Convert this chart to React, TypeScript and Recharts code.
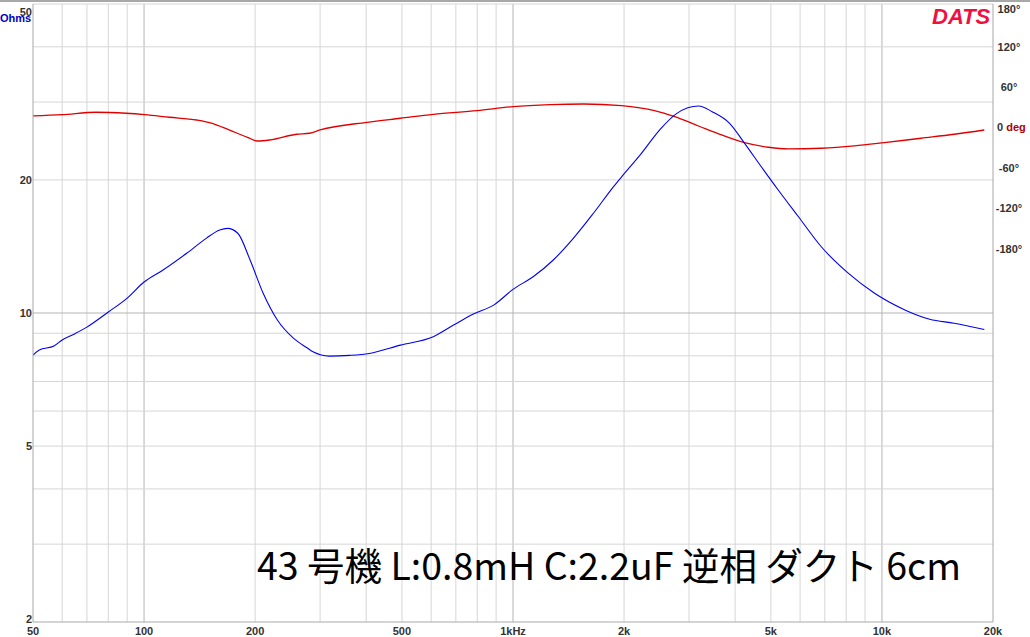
import { LineChart, Line, XAxis, YAxis, ReferenceLine } from "recharts";

const W = 1030;
const H = 637;

// impedance curve
const zFreq = [
  50, 52, 57, 60, 65, 70, 80, 90, 100, 112.6, 130.5, 147.4, 160.3, 168.5,
  179.5, 193.8, 210.3, 229.8, 254.4, 277.8, 287, 318, 361, 408, 495, 608, 690, 781,
  886, 1000, 1134, 1286, 1457, 1652, 1873, 1967, 2229, 2505, 2781, 3183, 3467, 3864,
  4244, 4710, 5234, 5939, 6849, 8117, 9551, 11578, 13475, 15691, 18943,
];
const zOhms = [
  8.03, 8.25, 8.42, 8.69, 8.98, 9.29, 10.05, 10.81, 11.75, 12.51, 13.65, 14.75,
  15.41, 15.54, 15.15, 13.18, 11.08, 9.64, 8.76, 8.32, 8.17, 7.99, 8.02, 8.1, 8.46,
  8.84, 9.39, 9.95, 10.42, 11.31, 12.08, 13.18, 14.75, 16.81, 19.31, 20.3, 22.97,
  26.03, 28.29, 29.39, 28.53, 26.86, 24.2, 21.42, 18.98, 16.51, 14.12, 12.29, 11.08,
  10.15, 9.68, 9.48, 9.18,
];

// phase curve
const phFreq = [
  50, 59.9, 74.3, 89.3, 100.5, 117.1, 138.9, 153, 170, 190.7, 202.7, 219, 259, 281,
  300, 402, 495, 608, 799, 1000, 1260, 1554, 1967, 2419, 2744, 3183, 3676, 4244, 4925,
  5577, 6849, 8415, 10146, 12767, 15691, 18943,
];
const phDeg = [
  17.1, 19.0, 22.6, 21.1, 19.0, 15.2, 11.1, 6.2, -3.7, -14.6, -20.1, -18.6, -10.1,
  -8.6, -3.7, 7.7, 13.7, 19.6, 25.0, 30.9, 33.9, 34.9, 32.4, 25.0, 16.0, 2.2, -11.1,
  -22.6, -29.4, -31.9, -30.9, -27.5, -22.6, -16.0, -10.1, -3.7,
];

const xTicks = [50, 100, 200, 500, 1000, 2000, 5000, 10000, 20000];
const xTickLabels = ["50", "100", "200", "500", "1kHz", "2k", "5k", "10k", "20k"];
const xGrid = [
  60, 70, 80, 90, 100, 200, 300, 400, 500, 600, 700, 800, 900, 1000, 2000, 3000, 4000,
  5000, 6000, 7000, 8000, 9000, 10000,
];
const xMajor = [100, 1000, 10000];

const zTicks = [2, 5, 10, 20, 50];
const zGrid = [3, 4, 5, 6, 7, 8, 9, 10, 20, 30, 40, 50];
const phTicks = [-180, -120, -60, 0, 60, 120, 180];

const title = "43 号機 L:0.8mH C:2.2uF 逆相 ダクト 6cm";

const zData = zFreq.map((f, i) => ({ f, v: zOhms[i] }));
const phData = phFreq.map((f, i) => ({ f, v: phDeg[i] }));

const tickFont = {
  fontFamily: "'Liberation Sans', Arial, sans-serif",
  fontWeight: 700,
  fontSize: 11,
  fill: "#333",
};

function BottomTick({ x, payload }: any) {
  const i = xTicks.indexOf(payload.value);
  return (
    <text x={x} y={635} textAnchor="middle" {...tickFont}>
      {xTickLabels[i]}
    </text>
  );
}

function LeftTick({ y, payload }: any) {
  let yy = y + 4;
  if (payload.value === 50) yy = y + 7;
  if (payload.value === 2) yy = y + 1;
  return (
    <text x={32} y={yy} textAnchor="end" {...tickFont}>
      {payload.value}
    </text>
  );
}

function RightTick({ y, payload }: any) {
  const v = payload.value;
  if (v === 0) {
    return (
      <text x={997} y={y + 4} textAnchor="start" {...tickFont}>
        0 <tspan fill="#b00000">deg</tspan>
      </text>
    );
  }
  return (
    <text x={1009} y={y + 4} textAnchor="middle" {...tickFont}>
      {v}°
    </text>
  );
}

export default function App() {
  return (
    <div style={{ position: "absolute", left: 0, top: 0, width: W, height: H, background: "#fff" }}>
      <LineChart width={W} height={H} margin={{ top: 4, right: 0, bottom: 0, left: 0 }}>
        <XAxis
          dataKey="f"
          type="number"
          scale="log"
          domain={[50, 20000]}
          allowDataOverflow
          ticks={xTicks}
          tick={<BottomTick />}
          tickLine={false}
          axisLine={{ stroke: "#a8a8a8" }}
          height={15}
        />
        <YAxis
          yAxisId="z"
          type="number"
          scale="log"
          domain={[2, 50]}
          allowDataOverflow
          ticks={zTicks}
          tick={<LeftTick />}
          tickLine={false}
          axisLine={{ stroke: "#a8a8a8" }}
          width={33}
        />
        <YAxis
          yAxisId="ph"
          orientation="right"
          type="number"
          domain={[-735, 183.5]}
          allowDataOverflow
          ticks={phTicks}
          tick={<RightTick />}
          tickLine={false}
          axisLine={{ stroke: "#a8a8a8" }}
          width={37}
        />
        {xGrid.map((v) => (
          <ReferenceLine
            key={"x" + v}
            x={v}
            yAxisId="z"
            stroke={xMajor.includes(v) ? "#b4b4b4" : "#d6d6d6"}
            strokeWidth={1}
          />
        ))}
        {zGrid.map((v) => (
          <ReferenceLine
            key={"y" + v}
            y={v}
            yAxisId="z"
            stroke={v === 10 ? "#b4b4b4" : "#d6d6d6"}
            strokeWidth={1}
          />
        ))}
        <Line
          data={phData}
          dataKey="v"
          yAxisId="ph"
          type="monotone"
          stroke="#e00000"
          strokeWidth={1.3}
          dot={false}
          isAnimationActive={false}
        />
        <Line
          data={zData}
          dataKey="v"
          yAxisId="z"
          type="monotone"
          stroke="#0000ee"
          strokeWidth={1.1}
          dot={false}
          isAnimationActive={false}
        />
      </LineChart>
      <svg
        width={W}
        height={H}
        style={{ position: "absolute", left: 0, top: 0, pointerEvents: "none" }}
      >
        <rect x={0} y={0} width={W} height={2} fill="#a8a8a8" />
        <text
          x={0}
          y={22}
          fontFamily="'Liberation Sans', Arial, sans-serif"
          fontWeight={700}
          fontSize={11}
          fill="#0000c0"
        >
          Ohms
        </text>
        <text
          x={932}
          y={24}
          fontFamily="'Liberation Sans', Arial, sans-serif"
          fontWeight={700}
          fontStyle="italic"
          fontSize={22}
          fill="#f01040"
        >
          DATS
        </text>
        <text
          x={257}
          y={580}
          fontFamily="'Noto Sans CJK JP', 'Noto Sans', sans-serif"
          fontSize={37.5}
          fill="#000"
        >
          {title}
        </text>
      </svg>
    </div>
  );
}
